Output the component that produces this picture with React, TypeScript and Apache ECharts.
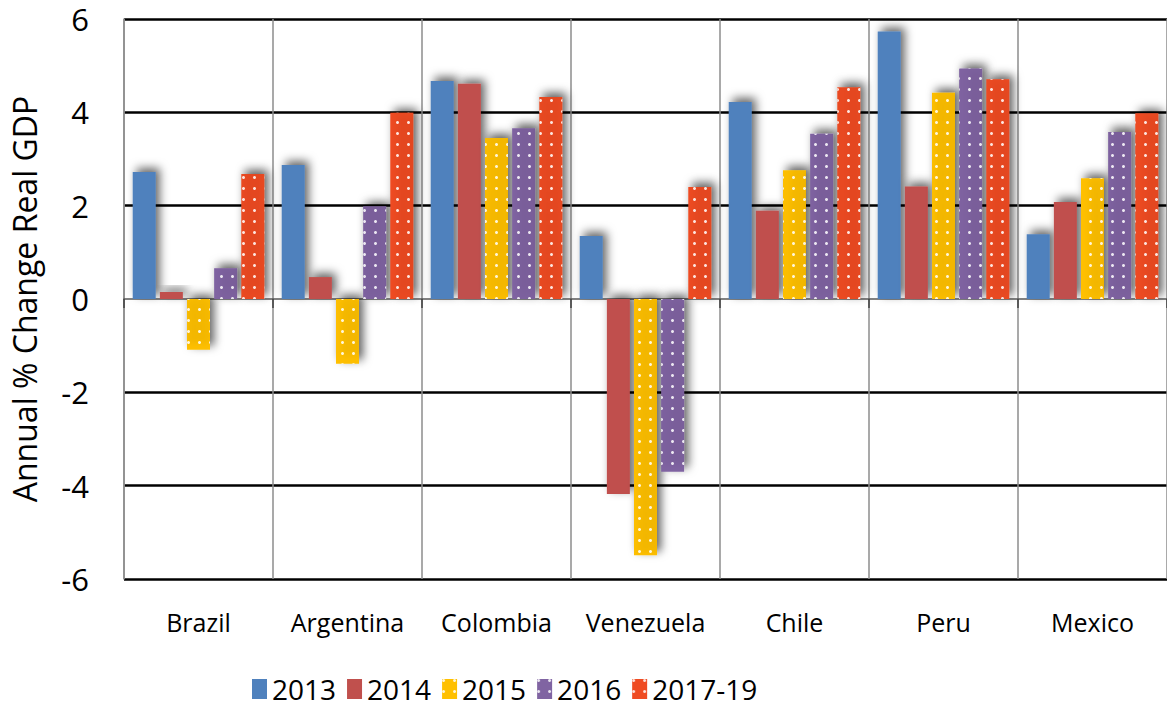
import React, { useEffect, useRef } from "react";
import * as echarts from "echarts";

const categories = ["Brazil", "Argentina", "Colombia", "Venezuela", "Chile", "Peru", "Mexico"];
const seriesNames = ["2013", "2014", "2015", "2016", "2017-19"];
const s2013 = [2.72, 2.87, 4.67, 1.35, 4.22, 5.73, 1.39];
const s2014 = [0.15, 0.47, 4.61, -4.18, 1.89, 2.41, 2.08];
const s2015 = [-1.09, -1.39, 3.45, -5.49, 2.76, 4.42, 2.59];
const s2016 = [0.66, 1.99, 3.66, -3.7, 3.54, 4.94, 3.58];
const s2017 = [2.68, 3.99, 4.33, 2.4, 4.54, 4.71, 3.98];
const seriesData = [s2013, s2014, s2015, s2016, s2017];
const colors = ["#4F81BD", "#C0504D", "#FFC000", "#8064A2", "#EF4B22"];
const dotted = [false, false, true, true, true];

export default function App() {
  const ref = useRef<HTMLDivElement>(null);
  useEffect(() => {
    document.body.style.margin = "0";
    const chart = echarts.init(ref.current!, undefined, { renderer: "svg" });
    const decal = {
      symbol: "circle",
      symbolSize: 1,
      dashArrayX: [3, 7.7],
      dashArrayY: [3, 7.7],
      color: "rgba(255,255,255,0.85)",
      rotation: 0,
    };
    chart.setOption({
      animation: false,
      textStyle: { fontFamily: "'Open Sans', sans-serif" },
      grid: { left: 122, top: 19, width: 1050, height: 560 },
      legend: {
        left: 252,
        top: 675,
        padding: 0,
        icon: "rect",
        itemWidth: 15,
        itemHeight: 20,
        itemGap: 11,
        textStyle: {
          fontFamily: "'Open Sans', sans-serif",
          fontSize: 28,
          color: "#000",
        },
        data: seriesNames,
      },
      xAxis: [
        {
          type: "category",
          data: categories,
          position: "bottom",
          axisLine: { onZero: true, lineStyle: { color: "#595959", width: 1.5 } },
          axisTick: { show: true, length: 9, inside: false, lineStyle: { color: "#404040", width: 1.5 } },
          axisLabel: { show: false },
          splitLine: { show: true, lineStyle: { color: "#8c8c8c", width: 1.5 } },
        },
        {
          type: "category",
          data: categories,
          position: "bottom",
          axisLine: { show: false, onZero: false },
          axisTick: { show: false },
          splitLine: { show: false },
          axisLabel: { show: true, interval: 0, margin: 30, fontSize: 25, color: "#000", fontFamily: "'Open Sans', sans-serif" },
        },
      ],
      yAxis: {
        type: "value",
        min: -6,
        max: 6,
        interval: 2,
        name: "Annual % Change Real GDP",
        nameLocation: "middle",
        nameGap: 84,
        nameTextStyle: { fontSize: 32, color: "#000", fontFamily: "'Open Sans', sans-serif" },
        axisLine: { show: true, lineStyle: { color: "#8c8c8c", width: 1.5 } },
        axisTick: { show: false },
        axisLabel: { fontSize: 31, color: "#000", margin: 35, fontFamily: "'Open Sans', sans-serif" },
        splitLine: {
          show: true,
          lineStyle: {
            color: ["#000", "#000", "#000", "rgba(0,0,0,0)", "#000", "#000", "#000"],
            width: 2.5,
          },
        },
      },
      series: seriesNames.map((name, i) => ({
        name,
        type: "bar",
        xAxisIndex: 0,
        data: seriesData[i],
        barWidth: 23,
        barGap: "18%",
        itemStyle: {
          color: colors[i],
          shadowBlur: 10,
          shadowColor: "rgba(0,0,0,0.6)",
          shadowOffsetX: 4,
          shadowOffsetY: -4,
          decal: dotted[i] ? decal : undefined,
        },
      })),
    });
    return () => chart.dispose();
  }, []);
  return <div ref={ref} style={{ width: 1167, height: 707 }} />;
}
